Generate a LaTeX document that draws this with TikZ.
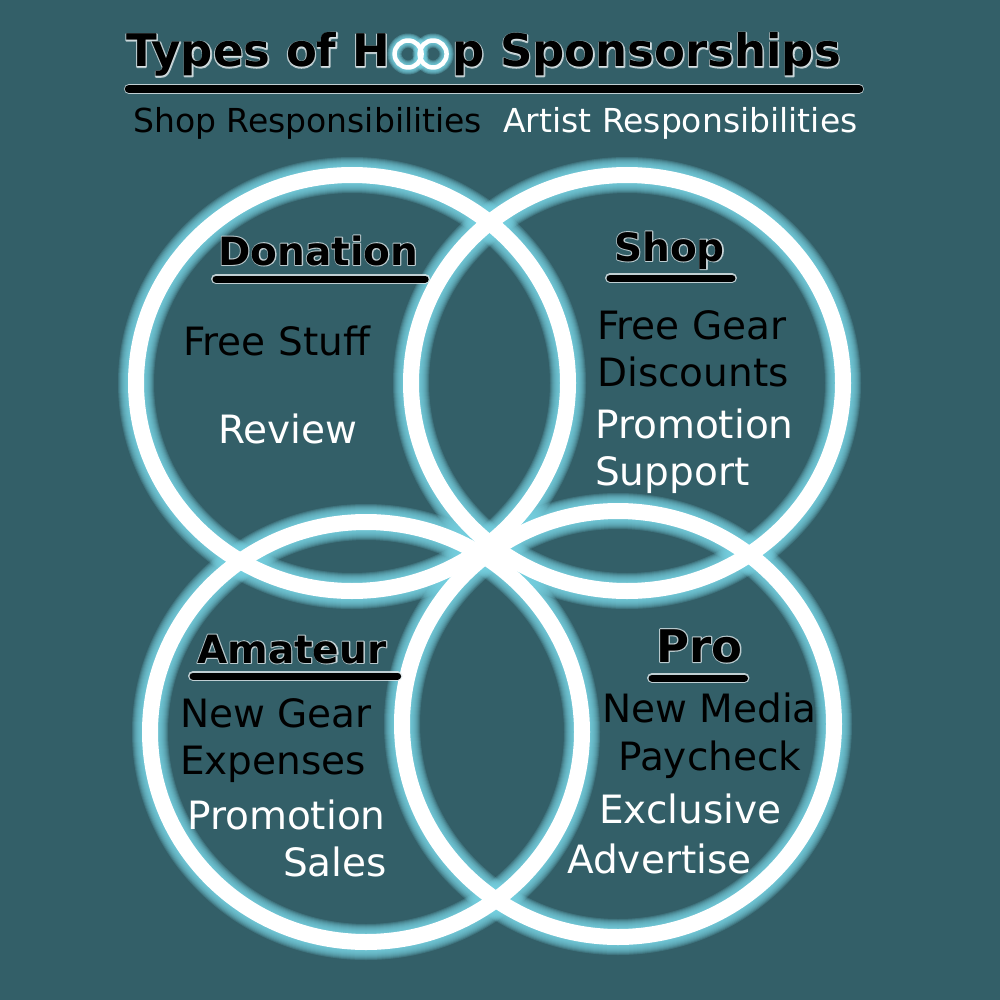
\documentclass[tikz,border=0pt]{standalone}
\usepackage{fontspec}
\setmainfont{DejaVu Sans}
\newfontface\halobold{DejaVu Sans Bold}[FakeBold=5]
\usetikzlibrary{calc,positioning}
\definecolor{hoopBg}{HTML}{335F68}
\definecolor{hoopGlow}{HTML}{78D3E3}
\definecolor{hoopHalo}{HTML}{E4ECEE}

% white outline copy under a bold text node
\newcommand\halotext[4]{%
  \node[#3,text=hoopHalo,opacity=0.75,font=\halobold\fontsize{\halosize}{50}\selectfont] at #2 {#4};
  \node[#3,font=\bfseries\fontsize{\halosize}{50}\selectfont] (#1) at #2 {#4};
}
\newcommand\halosize{39}

\begin{document}
\begin{tikzpicture}[x=1pt,y=-1pt,line cap=round,line join=round]
\tikzset{head/.style={anchor=base west,inner sep=0pt},
  item/.style={anchor=base west,inner sep=0pt,font=\fontsize{39}{44}\selectfont},
  itemw/.style={item,text=white},
  sub/.style={anchor=base west,inner sep=0pt,font=\fontsize{33}{36}\selectfont},
  bar/.style={draw=black,line width=7pt,preaction={draw=hoopHalo,line width=10pt,opacity=0.8}},
  hoop/.style={draw=white,line width=16pt},
  glow/.style={draw=hoopGlow,opacity=0.19}}
\path[fill=hoopBg] (0,0) rectangle (1000,1000);

% the four hoops, glow first
\foreach \cx/\cy/\ry in {352/383/208,627/383/208,366/732/210,618/724/213}{
  \foreach \w in {18,20,...,36}
    \draw[glow,line width=\w pt] (\cx,\cy) ellipse [x radius=216pt,y radius=\ry pt];
}
\foreach \cx/\cy/\ry in {352/383/208,627/383/208,366/732/210,618/724/213}
  \draw[hoop] (\cx,\cy) ellipse [x radius=216pt,y radius=\ry pt];

% title
\renewcommand\halosize{45}
\halotext{titleL}{(126,67)}{head}{Types of H}
\coordinate (titleGap) at ($(titleL.base east)+(62,0)$);
\halotext{titleR}{(titleGap)}{head}{p Sponsorships}
\coordinate (ringA) at ($(titleL.base east)+(18,-13)$);
\coordinate (ringB) at ($(ringA)+(25,0)$);
\foreach \rg in {ringA,ringB}{
  \foreach \w in {6,8,...,14}
    \draw[glow,opacity=0.3,line width=\w pt] (\rg) circle [radius=13.5pt];
}
\draw[white,line width=4.5pt] (ringA) circle [radius=13.5pt] (ringB) circle [radius=13.5pt];
\coordinate (barL) at (129,89); \coordinate (barR) at (859,89);
\draw[bar,line width=8.5pt] (barL) -- (barR);
\node[sub] (shopResp) at (133,133) {Shop Responsibilities};
\node[sub,text=white] (artistResp) at (503,133) {Artist Responsibilities};

% headers
\renewcommand\halosize{39}
\halotext{hdDonation}{(218,265)}{head}{Donation}
\halotext{hdShop}{(614,261)}{head}{Shop}
\halotext{hdAmateur}{(197,663)}{head}{Amateur}
\renewcommand\halosize{45}
\halotext{hdPro}{(656,662)}{head}{Pro}
\draw[bar] ($(hdDonation.base west)+(-2,14)$) -- ($(hdDonation.base east)+(7,14)$);
\draw[bar] ($(hdShop.base west)+(-4,17)$) -- ($(hdShop.base east)+(7,17)$);
\draw[bar] ($(hdAmateur.base west)+(-4,13)$) -- ($(hdAmateur.base east)+(11,13)$);
\draw[bar] ($(hdPro.base west)+(-4,16)$) -- ($(hdPro.base east)+(2,16)$);

% items
\node[item] (donFree) at (183,355) {Free Stuff};
\node[itemw] (donReview) at (218,443) {Review};
\node[item] (shopGear) at (597,339) {Free Gear};
\node[item] (shopDisc) at (597,386) {Discounts};
\node[itemw] (shopPromo) at (595,438) {Promotion};
\node[itemw] (shopSupport) at (595,485) {Support};
\node[item] (amGear) at (180,727) {New Gear};
\node[item] (amExp) at (180,774) {Expenses};
\node[itemw] (amPromo) at (187,829) {Promotion};
\node[itemw] (amSales) at (283,876) {Sales};
\node[item] (proMedia) at (602,722) {New Media};
\node[item] (proPay) at (618,770) {Paycheck};
\node[itemw] (proExcl) at (599,823) {Exclusive};
\node[itemw] (proAdv) at (567,873) {Advertise};
\end{tikzpicture}
\end{document}
